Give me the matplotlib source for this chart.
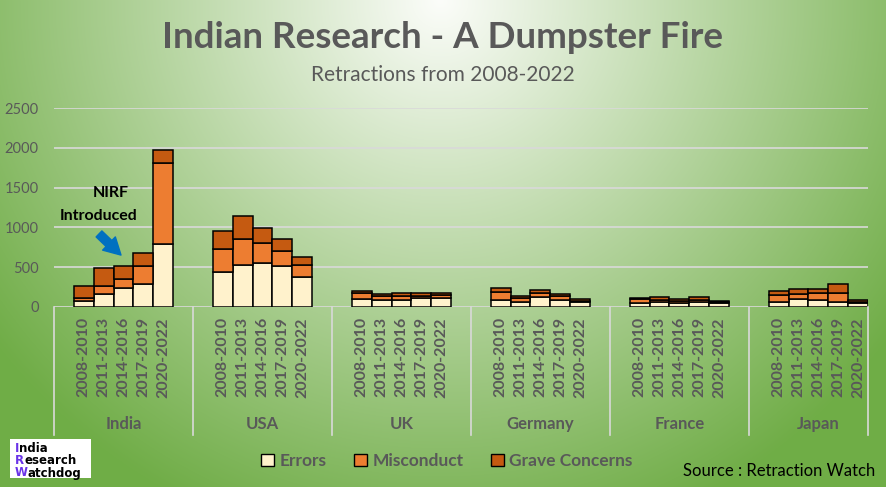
import numpy as np
import matplotlib
matplotlib.use("Agg")
import matplotlib.pyplot as plt
from matplotlib.patches import Patch, Rectangle
from matplotlib.lines import Line2D
import matplotlib.transforms as mtransforms

plt.rcParams['font.family'] = ['Lato', 'DejaVu Sans']

countries = ["India", "USA", "UK", "Germany", "France", "Japan"]
periods = ["2008-2010", "2011-2013", "2014-2016", "2017-2019", "2020-2022"]

errors = {
    "India":   [80, 168, 235, 294, 791],
    "USA":     [445, 533, 549, 520, 382],
    "UK":      [105, 93, 93, 109, 118],
    "Germany": [93, 68, 131, 93, 68],
    "France":  [46, 63, 55, 59, 46],
    "Japan":   [68, 97, 84, 59, 46],
}
misconduct = {
    "India":   [38, 101, 113, 226, 1023],
    "USA":     [283, 321, 260, 188, 146],
    "UK":      [76, 41, 50, 34, 33],
    "Germany": [100, 41, 41, 45, 10],
    "France":  [51, 25, 20, 29, 13],
    "Japan":   [79, 63, 88, 122, 22],
}
grave = {
    "India":   [142, 217, 172, 163, 163],
    "USA":     [232, 294, 188, 151, 105],
    "UK":      [25, 34, 38, 38, 30],
    "Germany": [42, 25, 38, 22, 17],
    "France":  [12, 34, 22, 34, 13],
    "Japan":   [50, 62, 50, 104, 16],
}
yticks = [0, 500, 1000, 1500, 2000, 2500]

W, H = 886, 487
fig = plt.figure(figsize=(W / 100, H / 100), dpi=100)

# background radial gradient
bg = fig.add_axes([0, 0, 1, 1], zorder=-10)
yy, xx = np.mgrid[0:H, 0:W]
t = np.sqrt(((xx - 440) / 560.0) ** 2 + ((yy - 0) / 560.0) ** 2)
t = np.clip(t, 0, 1)
light = np.array([252, 253, 250]) / 255.0
dark = np.array([112, 173, 71]) / 255.0
img = light[None, None, :] * (1 - t[..., None]) + dark[None, None, :] * t[..., None]
bg.imshow(img, aspect='auto', extent=[0, 1, 0, 1], origin='upper')
bg.axis('off')

def px(x, y):
    return (x / W, 1 - y / H)

left_px, right_px, top_px, bot_px = 54, 868, 108, 307
ax = fig.add_axes([left_px / W, 1 - bot_px / H, (right_px - left_px) / W, (bot_px - top_px) / H])
ax.set_facecolor('none')

c_err, c_mis, c_grv = '#FFF2CC', '#ED7D31', '#C55A11'
grid_c = '#D9D9D9'
txt_c = '#595959'

ncat = len(countries) * 7 - 1
for g, c in enumerate(countries):
    xs = np.array([g * 7 + 1 + i + 0.5 for i in range(len(periods))])
    e = np.array(errors[c]); m = np.array(misconduct[c]); gr = np.array(grave[c])
    kw = dict(width=1.0, edgecolor='black', linewidth=1.1, zorder=3)
    ax.bar(xs, e, color=c_err, **kw)
    ax.bar(xs, m, bottom=e, color=c_mis, **kw)
    ax.bar(xs, gr, bottom=e + m, color=c_grv, **kw)

ax.set_xlim(0, ncat)
ax.set_ylim(0, 2500)
for s in ax.spines.values():
    s.set_visible(False)
ax.set_yticks(yticks)
ax.set_yticklabels([str(v) for v in yticks], color=txt_c, fontsize=10.5)
ax.tick_params(axis='y', length=0, pad=11)
ax.set_xticks([])
ax.yaxis.grid(True, color=grid_c, linewidth=1.2, zorder=0)
ax.set_axisbelow(True)

# category axis labels
trans = mtransforms.blended_transform_factory(ax.transData, fig.transFigure)
for g, c in enumerate(countries):
    for i, p in enumerate(periods):
        fig.text(g * 7 + 1 + i + 0.5, 1 - 317 / H, p, transform=trans, rotation=90,
                 ha='center', va='top', fontsize=11.5, fontweight='bold', color=txt_c)
    fig.text(g * 7 + 3.5, 1 - 424 / H, c, transform=trans, ha='center', va='center',
             fontsize=12, fontweight='bold', color=txt_c)
for xsep in [g * 7 for g in range(len(countries))] + [ncat]:
    fig.add_artist(Line2D([xsep, xsep], [1 - 307 / H, 1 - 435 / H], transform=trans,
                          color=grid_c, linewidth=1.2))

# titles
fig.text(*px(442, 38), "Indian Research - A Dumpster Fire", ha='center', va='center',
         fontsize=26.5, fontweight='bold', color=txt_c)
fig.text(*px(443, 75), "Retractions from 2008-2022", ha='center', va='center',
         fontsize=15, color=txt_c)

# annotation
fig.text(*px(111, 193), "NIRF", ha='center', va='center', fontsize=11.5, fontweight='bold', color='black')
fig.text(*px(99, 216), "Introduced", ha='center', va='center', fontsize=11.5, fontweight='bold', color='black')
fig.add_artist(matplotlib.patches.FancyArrowPatch(px(97, 232), px(123, 257), transform=fig.transFigure,
               arrowstyle='simple,head_width=1.1,head_length=1.0,tail_width=0.5',
               mutation_scale=12, color='#0070C0'))

# legend
handles = [Patch(facecolor=c_err, edgecolor='black', label='Errors'),
           Patch(facecolor=c_mis, edgecolor='black', label='Misconduct'),
           Patch(facecolor=c_grv, edgecolor='black', label='Grave Concerns')]
leg = fig.legend(handles=handles, loc='center', bbox_to_anchor=px(447, 461), ncol=3, frameon=False,
                 handlelength=0.75, handleheight=0.75, handletextpad=0.3, columnspacing=1.6,
                 prop={'weight': 'bold', 'size': 12.5})
for tx in leg.get_texts():
    tx.set_color(txt_c)

fig.text(*px(875, 471), "Source : Retraction Watch", ha='right', va='center', fontsize=12, color='black')

# logo
fig.add_artist(Rectangle(px(10, 478), 81 / W, 39 / H, transform=fig.transFigure,
                         facecolor='white', edgecolor='none', zorder=5))
purple = '#6A33E8'
for k, word in enumerate(["India", "Research", "Watchdog"]):
    first = fig.text(*px(15, 449 + k * 12), word[0], ha='left', va='center', fontsize=8.5,
                     fontweight='bold', color=purple, family='DejaVu Sans', zorder=6)
    fig.add_artist(matplotlib.text.Annotation(word[1:], xy=(1, 0.5), xycoords=first, va='center',
                                              ha='left', fontsize=8.5, fontweight='bold',
                                              color='black', family='DejaVu Sans', zorder=6))

fig.savefig("out.png", dpi=100)
